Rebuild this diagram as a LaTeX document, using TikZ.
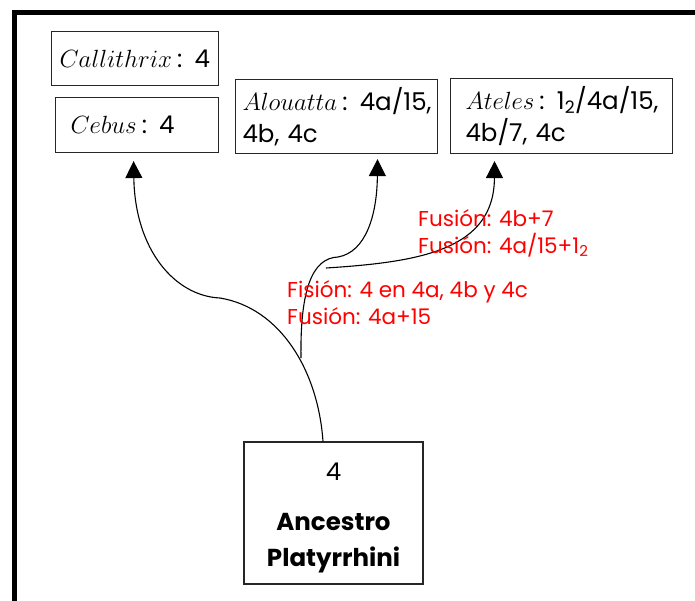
\documentclass[tikz,border=0pt]{standalone}
\usepackage{fontspec}
\setmainfont{Poppins}
\usetikzlibrary{arrows.meta}
\begin{document}
\begin{tikzpicture}[x=1pt,y=-1pt,
  box/.style={draw=black!85,line width=1.1pt,anchor=north west,align=left,inner ysep=0pt},
  lbl/.style={text=red,anchor=base west,inner sep=0pt,font=\fontsize{21.5}{26.5}\selectfont,align=left},
  conn/.style={line width=1.1pt,-{Triangle[length=17pt,width=17pt]}},
  every node/.style={font=\fontsize{24.5}{32}\selectfont}]
\useasboundingbox (0,0) rectangle (695,600);
\newcommand{\gen}[1]{{\fontsize{25.5}{30}\selectfont$#1$}\hspace{5pt}}
% frame
\draw[line width=5pt] (14.5,610) -- (14.5,12.5) -- (705,12.5);
% boxes
\node[box,minimum height=54pt,inner xsep=8pt,text width=151pt] (callithrix) at (51,31) {\mbox{\gen{Callithrix}: 4}};
\node[box,minimum height=55pt,inner xsep=15pt,text width=133pt] (cebus) at (55,97) {\mbox{\gen{Cebus}: 4}};
\node[box,minimum height=74pt,inner xsep=7pt,text width=188pt] (alouatta) at (235,79) {\mbox{\gen{Alouatta}: 4a/15,}\\4b, 4c};
\node[box,minimum height=75pt,inner xsep=15pt,text width=192pt] (ateles) at (450,78) {\mbox{\gen{Ateles}: 1\textsubscript{2}/4a/15,}\\4b/7, 4c};
\node[draw=black!85,line width=1.1pt,minimum width=179pt,minimum height=142pt,align=center,inner sep=0pt,
      font=\fontsize{24.5}{36}\selectfont] (anc) at (333.5,513)
  {\rule{0pt}{27pt}4\\[14pt]\textbf{Ancestro}\\\textbf{Platyrrhini}};
% connectors
\coordinate (split) at (301,358);
\coordinate (branch) at (326,268);
\draw[conn] ([xshift=-10.5pt]anc.north) .. controls (318,370) and (280,308) .. (220,298)
  .. controls (175,296) and (135,250) .. ([shift={(-3.5,8)}]cebus.south);
\draw[conn] (split) .. controls (300,290) and (312,258) .. (338,257)
  .. controls (366,252) and (377,215) .. ([shift={(41,5)}]alouatta.south);
\draw[conn] (branch) .. controls (420,262) and (494,250) .. ([shift={(-67,7)}]ateles.south);
% labels
\node[lbl] (lab1) at (418,253) {Fusión: 4b+7\\Fusión: 4a/15+1\textsubscript{2}};
\node[lbl] (lab2) at (287,324) {Fisión: 4 en 4a, 4b y 4c\\Fusión: 4a+15};
\end{tikzpicture}
\end{document}
